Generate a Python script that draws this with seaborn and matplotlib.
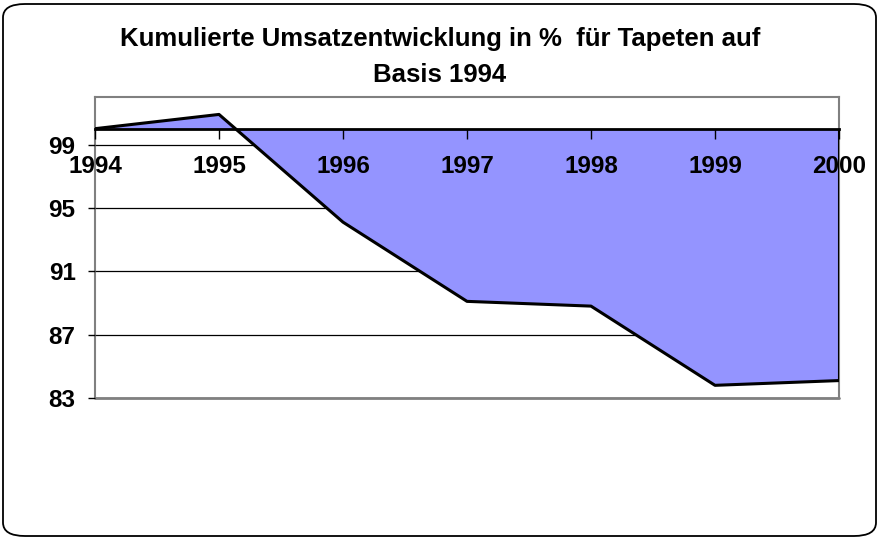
import matplotlib
matplotlib.use("Agg")
import matplotlib.pyplot as plt
from matplotlib.patches import FancyBboxPatch
import seaborn as sns
import pandas as pd
import numpy as np

years = ["1994", "1995", "1996", "1997", "1998", "1999", "2000"]
values = [100.0, 100.9, 94.1, 89.1, 88.8, 83.8, 84.1]
base = 100.0
y_ticks = [83, 87, 91, 95, 99]
title = "Kumulierte Umsatzentwicklung in %  für Tapeten auf\nBasis 1994"

sns.set_style("white")
plt.rcParams["font.family"] = ["Liberation Sans", "DejaVu Sans"]
plt.rcParams["font.weight"] = "bold"
plt.rcParams["text.color"] = "black"
plt.rcParams["xtick.color"] = "black"
plt.rcParams["ytick.color"] = "black"
plt.rcParams["xtick.labelcolor"] = "black"
plt.rcParams["ytick.labelcolor"] = "black"

fig = plt.figure(figsize=(8.8, 5.39), dpi=100)
ax = fig.add_axes([95 / 880, 1 - 398 / 539, (839 - 95) / 880, (398 - 97) / 539])
ax.set_axisbelow(False)

df = pd.DataFrame({"x": np.arange(len(years)), "value": values})

# gridlines
for t in y_ticks:
    ax.axhline(t, color="black", lw=0.9, zorder=1)

ax.fill_between(df["x"], base, df["value"], color="#9494FF", lw=0, zorder=2)
sns.lineplot(data=df, x="x", y="value", color="black", lw=2.2, ax=ax, zorder=3)
ax.vlines(df["x"].iloc[-1], df["value"].iloc[-1], base, color="black", lw=2.2, zorder=3)

ax.spines["bottom"].set_position(("data", base))
ax.spines["bottom"].set_color("black")
ax.spines["bottom"].set_linewidth(2.0)
ax.spines["bottom"].set_zorder(4)
for s in ["left", "top", "right"]:
    ax.spines[s].set_color("#808080")
    ax.spines[s].set_linewidth(1.5)
ax.axhline(83, color="#808080", lw=2.0, clip_on=False, zorder=1.5)

ax.set_xlim(0, len(years) - 1)
ax.set_ylim(83, 102)
ax.set_yticks(y_ticks)
ax.set_yticklabels([str(t) for t in y_ticks], fontsize=17.5, fontweight="bold", color="black")
ax.set_xticks(df["x"].tolist())
ax.set_xticklabels(years, fontsize=17.5, fontweight="bold", color="black")
ax.set_xlabel("")
ax.set_ylabel("")

ax.tick_params(axis="x", direction="out", length=7, width=1, color="black", pad=12, bottom=True)
ax.tick_params(axis="y", direction="out", length=5, width=1, color="black", pad=9, left=True)

fig.text(0.5, 0.895, title, ha="center", va="center", fontsize=18.5, fontweight="bold",
         linespacing=1.64, color="black")

border = FancyBboxPatch((3 / 880, 3 / 539), 873 / 880, 532 / 539,
                        boxstyle="round,pad=0,rounding_size=0.025",
                        transform=fig.transFigure, fill=False, ec="black", lw=1.3)
fig.patches.append(border)

fig.savefig("out.png", dpi=100)
